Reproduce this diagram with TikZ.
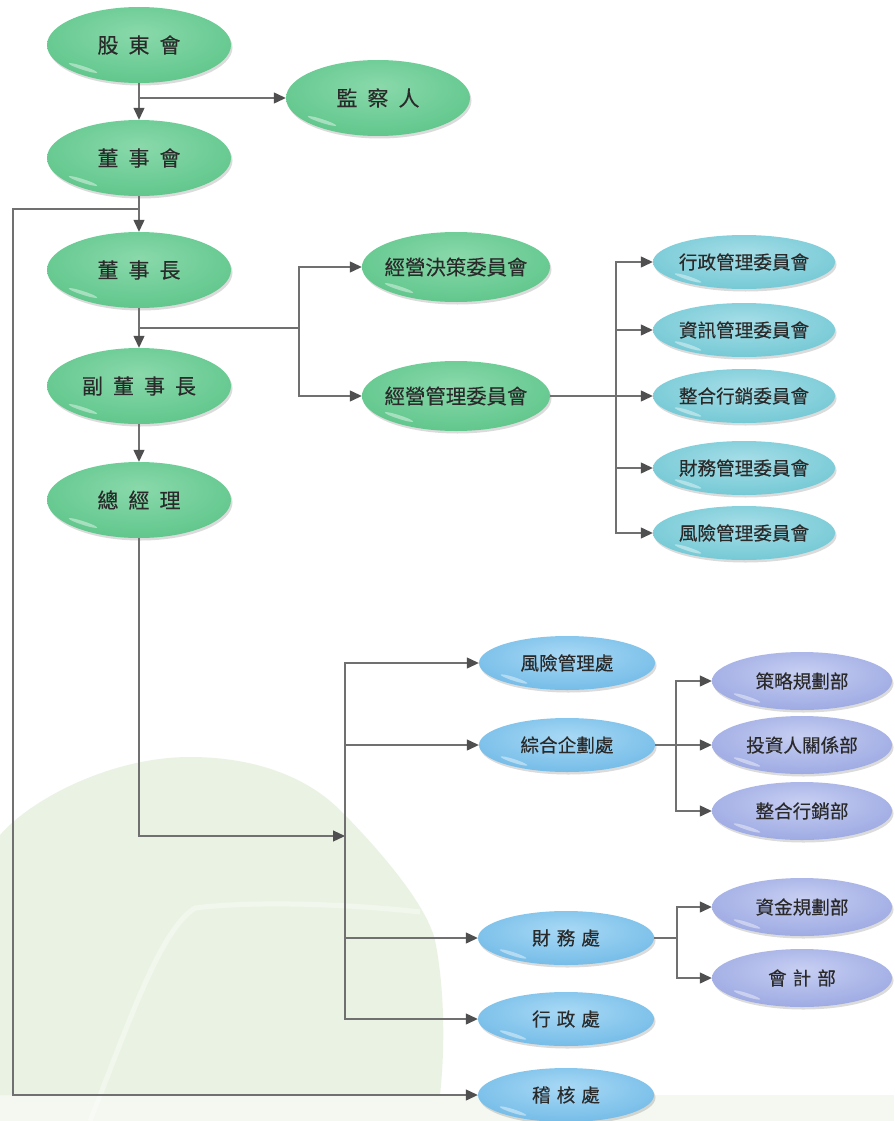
\documentclass[tikz,border=0pt]{standalone}
\usepackage{fontspec}
\newfontfamily\cjk[FakeBold=0.25]{Noto Sans CJK TC}
\usetikzlibrary{shapes.geometric,arrows.meta,shadows}
\definecolor{txt}{HTML}{2A2A2A}
\definecolor{ln}{HTML}{707070}
\definecolor{tipc}{HTML}{4F4F4F}
\definecolor{tree}{HTML}{EAF3E3}
\pgfdeclareradialshading{gball}{\pgfpoint{0bp}{8bp}}{rgb(0bp)=(0.54,0.85,0.67); rgb(30bp)=(0.38,0.78,0.55); rgb(50bp)=(0.22,0.63,0.40); rgb(80bp)=(0.22,0.63,0.40)}
\pgfdeclareradialshading{cball}{\pgfpoint{0bp}{8bp}}{rgb(0bp)=(0.65,0.87,0.91); rgb(30bp)=(0.46,0.79,0.835); rgb(50bp)=(0.27,0.65,0.73); rgb(80bp)=(0.27,0.65,0.73)}
\pgfdeclareradialshading{bball}{\pgfpoint{0bp}{8bp}}{rgb(0bp)=(0.66,0.85,0.96); rgb(30bp)=(0.46,0.74,0.91); rgb(50bp)=(0.25,0.57,0.81); rgb(80bp)=(0.25,0.57,0.81)}
\pgfdeclareradialshading{pball}{\pgfpoint{0bp}{8bp}}{rgb(0bp)=(0.78,0.81,0.95); rgb(30bp)=(0.62,0.67,0.89); rgb(50bp)=(0.43,0.50,0.78); rgb(80bp)=(0.43,0.50,0.78)}
\newcommand\ggap{\hspace{10pt}}
\newcommand\bgap{\hspace{6pt}}
\tikzset{
  base/.style={ellipse, inner sep=0pt, text=txt,
    drop shadow={shadow xshift=1.5pt, shadow yshift=-2.5pt, opacity=.2, fill=black!70}},
  hilite/.style n args={3}{path picture={\fill[white,opacity=.42]
    ([shift={(#1pt,#2pt)}]path picture bounding box.center)
    ellipse [x radius=#3pt, y radius=1.8pt, rotate=-18];}},
  green/.style={base, minimum width=184pt, minimum height=76pt, shading=gball,
    font=\cjk\fontsize{21}{21}\selectfont, hilite={-56}{-23}{15}},
  gcom/.style={base, inner xsep=-5pt, minimum width=188pt, minimum height=70pt, shading=gball,
    font=\cjk\fontsize{20.4}{21}\selectfont, hilite={-57}{-21}{15}},
  cyan/.style={base, inner xsep=-1pt, minimum width=182pt, minimum height=54pt, shading=cball,
    font=\cjk\fontsize{18.6}{19}\selectfont, hilite={-56}{-16}{14}},
  blue/.style={base, minimum width=176pt, minimum height=54pt, shading=bball,
    font=\cjk\fontsize{18.6}{19}\selectfont, hilite={-53}{-16}{14}},
  purple/.style={base, minimum width=180pt, minimum height=58pt, shading=pball,
    font=\cjk\fontsize{18.6}{19}\selectfont, hilite={-55}{-17}{14}},
  conn/.style={draw=ln, line width=1.2pt},
  arr/.style={conn, -{Triangle[length=12pt,width=11pt,color=tipc]}}
}
\begin{document}
\begin{tikzpicture}[x=1pt,y=-1pt]
\useasboundingbox (0,0) rectangle (894,1121);
\fill[white] (0,0) rectangle (894,1121);
% faint tree watermark
\fill[tree!55!white] (0,1095) rectangle (894,1121);
\fill[tree] (0,835) .. controls (30,800) and (110,757) .. (190,757)
  .. controls (260,757) and (310,780) .. (340,810)
  .. controls (370,840) and (425,900) .. (435,940)
  .. controls (445,990) and (445,1050) .. (440,1095) -- (0,1095) -- cycle;
\draw[white, opacity=.35, line width=5pt] (90,1121) .. controls (130,1020) and (160,930) .. (195,908)
  .. controls (260,900) and (360,905) .. (420,912);

% top-level nodes
\node[green] (gdh) at (139,45) {股\ggap 東\ggap 會};
\node[green] (jcr) at (378,98) {監\ggap 察\ggap 人};
\node[green] (dsh) at (139,158) {董\ggap 事\ggap 會};
\node[green] (dsz) at (139,270) {董\ggap 事\ggap 長};
\node[green] (fdsz) at (139,386) {副\ggap 董\ggap 事\ggap 長};
\node[green] (zjl) at (139,500) {總\ggap 經\ggap 理};
\node[gcom] (jyjc) at (456,267) {經營決策委員會};
\node[gcom] (jygl) at (456,396) {經營管理委員會};
% committees
\node[cyan] (c1) at (744,262) {行政管理委員會};
\node[cyan] (c2) at (744,330) {資訊管理委員會};
\node[cyan] (c3) at (744,396) {整合行銷委員會};
\node[cyan] (c4) at (744,468) {財務管理委員會};
\node[cyan] (c5) at (744,533) {風險管理委員會};
% divisions
\node[blue] (fx) at (567,663) {風險管理處};
\node[blue] (zh) at (567,745) {綜合企劃處};
\node[blue] (cw) at (566,938) {財\bgap 務\bgap 處};
\node[blue] (xz) at (566,1019) {行\bgap 政\bgap 處};
\node[blue] (jh) at (566,1095) {稽\bgap 核\bgap 處};
% departments
\node[purple] (p1) at (802,681) {策略規劃部};
\node[purple] (p2) at (802,745) {投資人關係部};
\node[purple] (p3) at (802,811) {整合行銷部};
\node[purple] (p4) at (802,907) {資金規劃部};
\node[purple] (p5) at (802,978) {會\bgap 計\bgap 部};

% connectors
\coordinate (La) at (13,209);
\coordinate (b1) at (299,328);
\coordinate (b2) at (616,396);
\coordinate (b3) at (345,836);
\coordinate (b4) at (676,745);
\coordinate (b5) at (677,938);

\draw[arr] (gdh.south) -- (dsh.north);
\draw[arr] (gdh.south |- jcr.west) -- (jcr.west);
\draw[arr] (dsh.south) -- (dsz.north);
\draw[arr] (dsh.south |- La) -- (La) |- (jh.west);
\draw[arr] (dsz.south) -- (fdsz.north);
\draw[conn] (dsz.south |- b1) -- (b1);
\draw[arr] (b1) |- (jyjc.west);
\draw[arr] (b1) |- (jygl.west);
\draw[arr] (jygl.east) -- (c3.west);
\draw[arr] (b2) |- (c1.west);
\draw[arr] (b2) |- (c2.west);
\draw[arr] (b2) |- (c4.west);
\draw[arr] (b2) |- (c5.west);
\draw[arr] (fdsz.south) -- (zjl.north);
\draw[arr] (zjl.south) |- (b3);
\draw[arr] (b3) |- (fx.west);
\draw[arr] (b3) |- (zh.west);
\draw[arr] (b3) |- (cw.west);
\draw[arr] (b3) |- (xz.west);
\draw[arr] (zh.east) -- (p2.west);
\draw[arr] (b4) |- (p1.west);
\draw[arr] (b4) |- (p3.west);
\draw[conn] (cw.east) -- (b5);
\draw[arr] (b5) |- (p4.west);
\draw[arr] (b5) |- (p5.west);
\end{tikzpicture}
\end{document}
